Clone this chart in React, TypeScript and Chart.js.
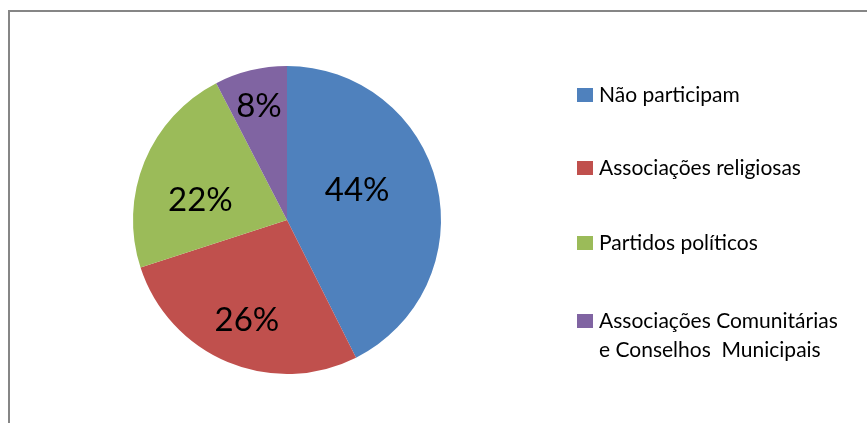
import React, { useEffect, useRef } from "react";
import { Chart, registerables } from "chart.js";

Chart.register(...registerables);

const categories: string[][] = [
  ["Não participam"],
  ["Associações religiosas"],
  ["Partidos políticos"],
  ["Associações Comunitárias", "e Conselhos  Municipais"],
];
const values: number[] = [42.6, 27.4, 22.4, 7.6];
const valueLabels: string[] = ["44%", "26%", "22%", "8%"];
const colors: string[] = ["#4F81BD", "#C0504D", "#9BBB59", "#8064A2"];

// label placement tweaks (angle offset in degrees, radius fraction)
const labelAngleOffset = [-11, -0.5, -8, 0];
const labelRadiusFrac = [0.5, 0.69, 0.58, 0.77];

const FONT = "Lato, 'DejaVu Sans', sans-serif";

const labelsPlugin = {
  id: "pctLabels",
  afterDatasetsDraw(chart: any) {
    const ctx = chart.ctx;
    const meta = chart.getDatasetMeta(0);
    ctx.save();
    ctx.fillStyle = "#000";
    ctx.font = `33px ${FONT}`;
    ctx.textAlign = "center";
    ctx.textBaseline = "middle";
    meta.data.forEach((arc: any, i: number) => {
      const { x, y, startAngle, endAngle, outerRadius } = arc.getProps(
        ["x", "y", "startAngle", "endAngle", "outerRadius"],
        true
      );
      const mid = (startAngle + endAngle) / 2 + (labelAngleOffset[i] * Math.PI) / 180;
      const r = outerRadius * labelRadiusFrac[i];
      ctx.fillText(valueLabels[i], x + Math.cos(mid) * r, y + Math.sin(mid) * r + 2);
    });
    ctx.restore();
  },
};

const legendPlugin = {
  id: "sideLegend",
  afterDraw(chart: any) {
    const ctx = chart.ctx;
    const rowY = [95, 168, 243, 321];
    ctx.save();
    ctx.font = `21px ${FONT}`;
    ctx.textBaseline = "middle";
    ctx.textAlign = "left";
    categories.forEach((lines, i) => {
      ctx.fillStyle = colors[i];
      ctx.fillRect(577, rowY[i] - 7, 16, 14);
      ctx.fillStyle = "#000";
      lines.forEach((t, j) => {
        ctx.fillText(t, 599, rowY[i] + j * 29);
      });
    });
    ctx.restore();
  },
};

export default function App() {
  const ref = useRef<HTMLCanvasElement>(null);
  useEffect(() => {
    document.body.style.margin = "0";
    const chart = new Chart(ref.current!, {
      type: "pie",
      data: {
        labels: categories.map((c) => c.join(" ")),
        datasets: [
          {
            data: values,
            backgroundColor: colors,
            borderWidth: 0,
          },
        ],
      },
      options: {
        animation: false,
        responsive: false,
        maintainAspectRatio: false,
        layout: { padding: { left: 133, right: 426, top: 66, bottom: 49 } },
        plugins: {
          legend: { display: false },
          tooltip: { enabled: false },
        },
      },
      plugins: [labelsPlugin, legendPlugin],
    });
    return () => chart.destroy();
  }, []);
  return (
    <div style={{ position: "relative", width: 867, height: 423, background: "#fff", overflow: "hidden" }}>
      <div
        style={{
          position: "absolute",
          left: 8,
          top: 10,
          width: 900,
          height: 500,
          borderTop: "2px solid #868686",
          borderLeft: "2px solid #868686",
        }}
      />
      <canvas ref={ref} width={867} height={423} style={{ position: "absolute", left: 0, top: 0 }} />
    </div>
  );
}
